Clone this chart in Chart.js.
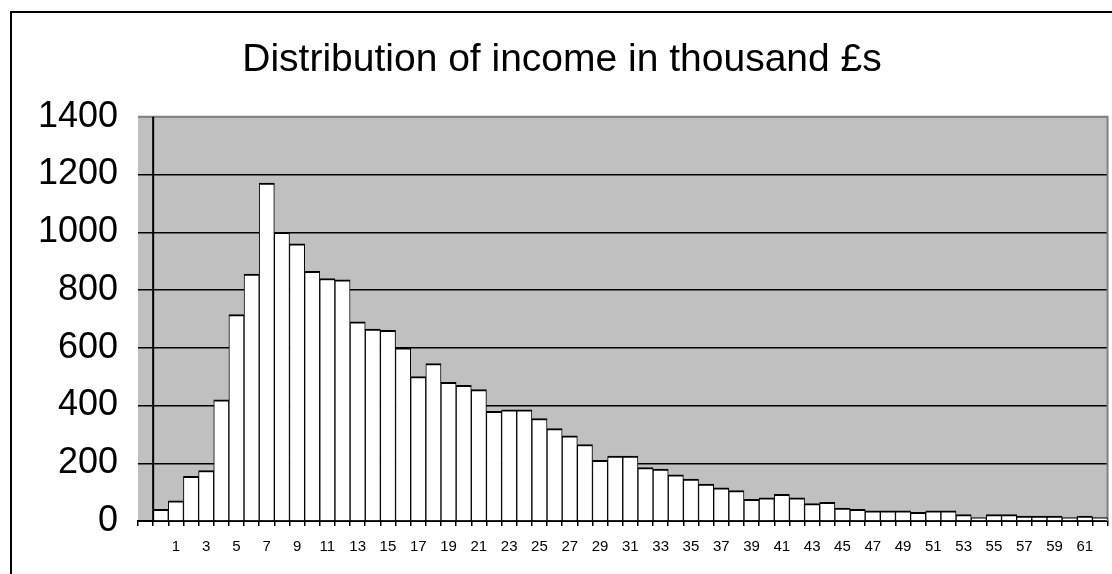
<!DOCTYPE html>
<html>
<head>
<meta charset="utf-8">
<title>Distribution of income</title>
<script src="https://cdn.jsdelivr.net/npm/chart.js@4/dist/chart.umd.min.js"></script>
<style>
  html, body { margin: 0; padding: 0; background: #fff; }
  #wrap { width: 1112px; height: 574px; }
</style>
</head>
<body>
<div id="wrap"><canvas id="incomeChart"></canvas></div>
<script>
// Income bands in thousand £s (first slot is an empty spacer left of the value axis)
const bands = ['', '0', '1', '2', '3', '4', '5', '6', '7', '8', '9', '10', '11', '12', '13', '14', '15',
    '16', '17', '18', '19', '20', '21', '22', '23', '24', '25', '26', '27', '28', '29', '30', '31',
    '32', '33', '34', '35', '36', '37', '38', '39', '40', '41', '42', '43', '44', '45', '46', '47',
    '48', '49', '50', '51', '52', '53', '54', '55', '56', '57', '58', '59', '60', '61', '62'];

// Number of people in each band
const counts = [null, 40, 70, 155, 175, 420, 715, 855, 1170, 1000, 960, 865, 840, 835, 690, 665, 660,
    600, 500, 545, 480, 470, 455, 380, 385, 385, 355, 320, 295, 265, 210, 225, 225,
    185, 180, 160, 145, 128, 115, 105, 75, 80, 92, 80, 60, 65, 45, 40, 35,
    35, 35, 30, 35, 35, 22, 12, 22, 22, 17, 17, 17, 12, 17, 12];

const yMax = 1400;
const yStep = 200;

// Grey plot area, outer frame and the value axis line
const plotDecor = {
    id: 'plotDecor',
    beforeDraw(chart) {
        const { ctx, chartArea: a } = chart;
        ctx.save();
        ctx.fillStyle = '#ffffff';
        ctx.fillRect(0, 0, chart.width, chart.height);
        ctx.fillStyle = '#c0c0c0';
        ctx.fillRect(a.left, a.top, a.right - a.left, a.bottom - a.top);
        ctx.strokeStyle = '#000000';
        ctx.lineWidth = 2;
        ctx.strokeRect(11, 12, chart.width + 40, chart.height + 40);
        ctx.restore();
    },
    beforeDatasetsDraw(chart) {
        const { ctx, chartArea: a } = chart;
        ctx.save();
        ctx.strokeStyle = '#808080';
        ctx.lineWidth = 2;
        ctx.beginPath();
        ctx.moveTo(a.left, a.top);
        ctx.lineTo(a.right, a.top);
        ctx.lineTo(a.right, a.bottom);
        ctx.stroke();
        ctx.restore();
    },
    afterDatasetsDraw(chart) {
        const { ctx, chartArea: a } = chart;
        const x = chart.scales.x;
        const axisX = (x.getPixelForValue(0) + x.getPixelForValue(1)) / 2;
        ctx.save();
        ctx.strokeStyle = '#000000';
        ctx.lineWidth = 2;
        ctx.beginPath();
        ctx.moveTo(axisX, a.top);
        ctx.lineTo(axisX, a.bottom);
        ctx.stroke();
        ctx.restore();
    }
};

const chartConfig = {
    type: 'bar',
    data: {
        labels: bands,
        datasets: [{
            label: 'People',
            data: counts,
            backgroundColor: '#ffffff',
            borderColor: '#000000',
            borderWidth: { top: 2, left: 1, right: 1, bottom: 0 },
            borderSkipped: false,
            categoryPercentage: 1.0,
            barPercentage: 1.0
        }]
    },
    options: {
        responsive: true,
        maintainAspectRatio: false,
        animation: false,
        layout: {
            padding: { left: 14, right: 2, top: 0, bottom: 6 }
        },
        scales: {
            x: {
                grid: {
                    display: true,
                    offset: true,
                    drawOnChartArea: false,
                    drawTicks: true,
                    tickLength: 5,
                    color: '#000000',
                    lineWidth: 1.5
                },
                border: { display: true, color: '#000000', width: 2 },
                ticks: {
                    autoSkip: false,
                    maxRotation: 0,
                    padding: 12,
                    color: '#000000',
                    font: { family: 'Liberation Sans, Arial, sans-serif', size: 15 },
                    callback: function (value) {
                        const label = this.getLabelForValue(value);
                        if (label === '') return '';
                        return Number(label) % 2 === 1 ? label : '';
                    }
                }
            },
            y: {
                min: 0,
                max: yMax,
                afterFit: function (scale) {
                    scale.width = 124;
                },
                grid: {
                    drawTicks: false,
                    color: (c) => c.tick && c.tick.value === yMax ? '#808080' : '#000000',
                    lineWidth: 1.5
                },
                border: { display: false },
                ticks: {
                    stepSize: yStep,
                    padding: 20,
                    color: '#000000',
                    font: { family: 'Liberation Sans, Arial, sans-serif', size: 36 },
                    callback: (value) => String(value)
                }
            }
        },
        plugins: {
            legend: { display: false },
            tooltip: { enabled: false },
            title: {
                display: true,
                text: 'Distribution of income in thousand £s',
                color: '#000000',
                font: { family: 'Liberation Sans, Arial, sans-serif', size: 39, weight: 'normal' },
                padding: { top: 37, bottom: 33 }
            }
        }
    },
    plugins: [plotDecor]
};

let chart;

document.addEventListener('DOMContentLoaded', () => {
    const ctx = document.getElementById('incomeChart').getContext('2d');
    chart = new Chart(ctx, chartConfig);
});
</script>
</body>
</html>
